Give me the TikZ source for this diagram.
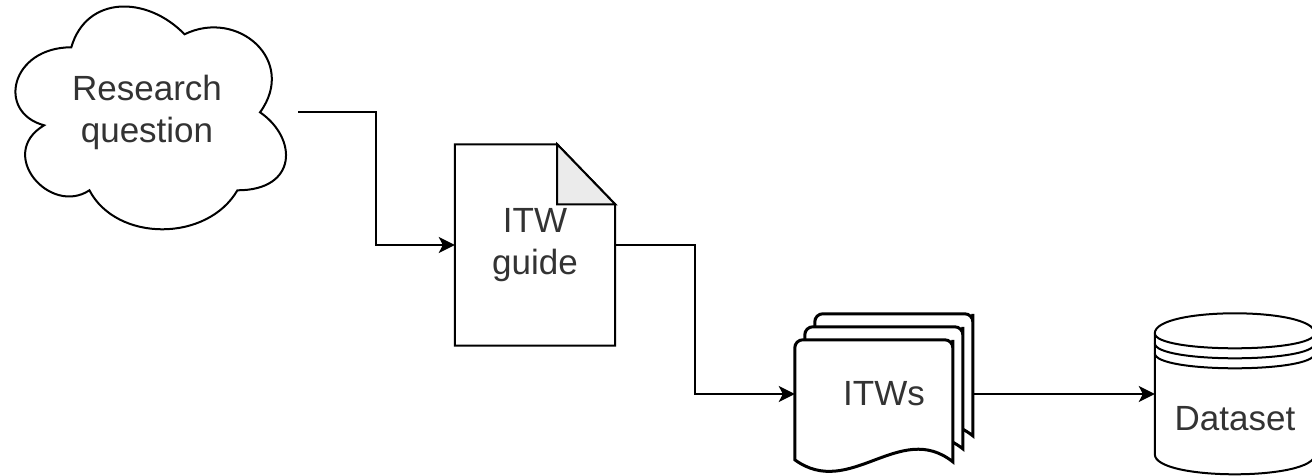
\documentclass[tikz,border=0pt]{standalone}
\usepackage{fontspec}
\setmainfont{Liberation Sans}
\usepackage{tikz}
\usetikzlibrary{arrows.meta,calc,backgrounds}
\usepackage{xcolor}

\begin{document}
\begin{tikzpicture}[
  x=1pt,y=-1pt,
  every node/.style={align=center,font=\fontsize{35}{42}\selectfont,text=black!80},
  shapeline/.style={draw,line width=2pt,fill=white},
  cloudbox/.style={minimum width=302pt,minimum height=260pt,inner sep=0pt},
  docbox/.style={minimum width=160pt,minimum height=201pt,inner sep=0pt},
  stackbox/.style={minimum width=178pt,minimum height=162pt,inner sep=0pt},
  storebox/.style={minimum width=160pt,minimum height=161pt,inner sep=0pt},
  sheet/.style={shapeline,line width=3pt},
  fold/.style={draw,line width=2pt,fill=black!8},
  to/.style={-{Stealth[length=16pt,width=16pt,inset=4pt]},line width=2pt},
  elbow/.style={to path={-- ++(#1,0) |- (\tikztotarget)}}]

  \useasboundingbox (0,0) rectangle (1312,476);

  \node[cloudbox] (rq) at (147,112.5) {Research\\question};
  \node[docbox] (guide) at (535,245) {ITW\\guide};
  \node[stackbox] (itws) at (884,394) {ITWs};
  \node[storebox] (ds) at (1235,394) {};
  \node (dstext) at ([yshift=-25pt]ds.center) {Dataset};

  \begin{scope}[on background layer]
    % cloud outline inside the box of rq
    \draw[shapeline,shift={(rq.north west)},x=302pt,y=-260pt]
      (.25,.25) .. controls (.05,.25) and (0,.5) .. (.16,.55)
      .. controls (0,.66) and (.18,.9) .. (.31,.8)
      .. controls (.4,1) and (.7,1) .. (.8,.8)
      .. controls (1,.8) and (1,.6) .. (.875,.5)
      .. controls (1,.3) and (.8,.1) .. (.625,.2)
      .. controls (.5,.05) and (.3,.05) .. (.25,.25) -- cycle;
    % page with a folded corner
    \draw[shapeline] (guide.south west) -- (guide.north west)
      -- ([xshift=-58pt]guide.north east) -- ([yshift=-60pt]guide.north east)
      -- (guide.south east) -- cycle;
    \draw[fold] ([xshift=-58pt]guide.north east)
      -- ([xshift=-58pt,yshift=-60pt]guide.north east)
      -- ([yshift=-60pt]guide.north east) -- cycle;
    % stack of three sheets, back one first
    \foreach \d in {2,1,0}
      \draw[sheet,shift={($(itws.north west)+(10*\d,27-13*\d)$)}]
        (0,120) -- (0,8) [rounded corners=8pt] -- (0,0) -- (158,0) -- (158,8)
        [sharp corners] -- (158,122) .. controls (105,80) and (55,160) .. (0,120) -- cycle;
    % data store
    \draw[shapeline,shift={(ds.north west)}]
      (0,20) .. controls (0,-6.67) and (160,-6.67) .. (160,20) -- (160,141)
      .. controls (160,167.67) and (0,167.67) .. (0,141) -- cycle;
    \foreach \s in {20,30,40}
      \draw[line width=2pt,shift={(ds.north west)}]
        (0,\s) .. controls (0,\s+20) and (160,\s+20) .. (160,\s);
  \end{scope}

  \draw[to] (rq.east) to[elbow=78pt] (guide.west);
  \draw[to] (guide.east) to[elbow=80pt] (itws.west);
  \draw[to] (itws.east) -- (ds.west);
\end{tikzpicture}
\end{document}
